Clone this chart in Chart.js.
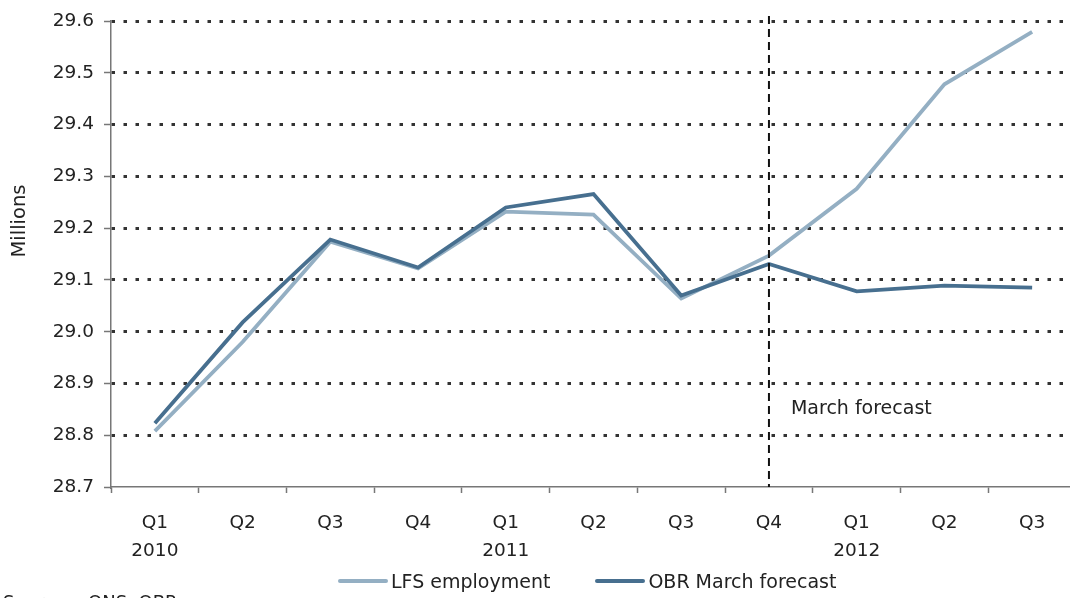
<!DOCTYPE html>
<html>
<head>
<meta charset="UTF-8">
<title>Employment</title>
<script src="https://cdn.jsdelivr.net/npm/chart.js"></script>
<style>
  html, body { margin: 0; padding: 0; background: #fff; overflow: hidden; }
  #wrap { position: relative; width: 1070px; height: 598px; overflow: hidden; }
  #chart { position: absolute; left: 0; top: 0; }
  #source {
    position: absolute; left: 3px; top: 591px;
    font: 18px "DejaVu Sans", sans-serif; color: #222; white-space: nowrap;
  }
  #source span { display: inline-block; width: 85px; }
  #legend {
    position: absolute; left: 338px; top: 569px; height: 24px;
    display: flex; align-items: center;
    font: 19px "DejaVu Sans", sans-serif; color: #222; white-space: nowrap;
  }
  #legend .item { display: flex; align-items: center; margin-right: 45px; }
  #legend .swatch { width: 50px; height: 4px; border-radius: 2px; margin-right: 3px; }
</style>
</head>
<body>
<div id="wrap">
  <canvas id="chart" width="1076" height="598"></canvas>
  <div id="legend"></div>
  <div id="source"><span>Source:</span>ONS, OBR</div>
</div>
<script>
const categories = ['Q1 2010', 'Q2 2010', 'Q3 2010', 'Q4 2010', 'Q1 2011', 'Q2 2011',
                    'Q3 2011', 'Q4 2011', 'Q1 2012', 'Q2 2012', 'Q3 2012'];
const quarterLabels = ['Q1', 'Q2', 'Q3', 'Q4', 'Q1', 'Q2', 'Q3', 'Q4', 'Q1', 'Q2', 'Q3'];
const yearLabels = ['2010', '', '', '', '2011', '', '', '', '2012', '', ''];

const lfsEmployment = [28.808, 28.980, 29.174, 29.122, 29.232, 29.226, 29.064, 29.147, 29.276, 29.478, 29.579];
const obrForecast = [28.823, 29.018, 29.178, 29.124, 29.240, 29.266, 29.070, 29.131, 29.078, 29.089, 29.085];

const forecastStart = 'Q4 2011';
const forecastLabel = 'March forecast';

const FONT = '"DejaVu Sans", sans-serif';
const TEXT = '#222';

// vertical dashed line + label at the forecast point, y title
const forecastLine = {
  id: 'forecastLine',
  afterDatasetsDraw(chart) {
    const ctx = chart.ctx;
    const x = chart.scales.x.getPixelForValue(categories.indexOf(forecastStart));
    const area = chart.chartArea;
    ctx.save();
    ctx.strokeStyle = '#111';
    ctx.lineWidth = 2;
    ctx.setLineDash([8, 5]);
    ctx.beginPath();
    ctx.moveTo(x, area.top - 5);
    ctx.lineTo(x, area.bottom);
    ctx.stroke();
    ctx.setLineDash([]);
    ctx.fillStyle = TEXT;
    ctx.font = '19px ' + FONT;
    ctx.textBaseline = 'middle';
    ctx.fillText(forecastLabel, x + 22, chart.scales.y.getPixelForValue(28.85));
    ctx.restore();
  },
  afterDraw(chart) {
    const ctx = chart.ctx;
    ctx.save();
    ctx.translate(20, 221);
    ctx.rotate(-Math.PI / 2);
    ctx.fillStyle = TEXT;
    ctx.font = '19.5px ' + FONT;
    ctx.textAlign = 'center';
    ctx.textBaseline = 'middle';
    ctx.fillText('Millions', 0, 0);
    ctx.restore();
  }
};

const chart = new Chart(document.getElementById('chart'), {
  type: 'line',
  data: {
    labels: categories,
    datasets: [{
      label: 'LFS employment',
      data: lfsEmployment,
      borderColor: '#94afc3',
      backgroundColor: '#94afc3',
      borderWidth: 3.8,
      pointRadius: 0,
      tension: 0,
      order: 1
    }, {
      label: 'OBR March forecast',
      data: obrForecast,
      borderColor: '#476f8f',
      backgroundColor: '#476f8f',
      borderWidth: 3.8,
      pointRadius: 0,
      tension: 0,
      order: 0
    }]
  },
  options: {
    responsive: false,
    animation: false,
    layout: { padding: { top: 20, right: 0, left: 0, bottom: 33 } },
    plugins: {
      tooltip: { enabled: false },
      legend: { display: false }
    },
    scales: {
      x: {
        offset: true,
        afterFit: (s) => { s.height = 78; },
        border: { color: '#777', width: 1.5 },
        grid: {
          offset: true,
          drawOnChartArea: false,
          drawTicks: true,
          tickLength: 6,
          tickColor: '#777',
          tickWidth: 1.5
        },
        ticks: {
          autoSkip: false,
          maxRotation: 0,
          padding: 16,
          color: TEXT,
          font: { family: FONT, size: 18.5, lineHeight: 1.52 },
          callback: (v, i) => yearLabels[i] ? [quarterLabels[i], yearLabels[i]] : quarterLabels[i]
        }
      },
      y: {
        min: 28.7,
        max: 29.6,
        afterFit: (s) => { s.width = 111; },
        border: { color: '#777', width: 1.5, dash: [3.5, 8.5] },
        grid: {
          color: (c) => c.tick && c.tick.value <= 28.7 ? 'rgba(0,0,0,0)' : '#333',
          lineWidth: 3,
          tickBorderDash: [],
          tickColor: '#777',
          tickWidth: 1.5,
          tickLength: 7
        },
        ticks: {
          stepSize: 0.1,
          padding: 10,
          color: TEXT,
          font: { family: FONT, size: 18.5 },
          callback: (v) => v.toFixed(1)
        }
      }
    }
  },
  plugins: [forecastLine]
});

// legend built from the datasets
const legend = document.getElementById('legend');
chart.data.datasets.forEach((ds) => {
  const item = document.createElement('div');
  item.className = 'item';
  const sw = document.createElement('div');
  sw.className = 'swatch';
  sw.style.background = ds.borderColor;
  const label = document.createElement('span');
  label.textContent = ds.label;
  item.appendChild(sw);
  item.appendChild(label);
  legend.appendChild(item);
});
</script>
</body>
</html>
